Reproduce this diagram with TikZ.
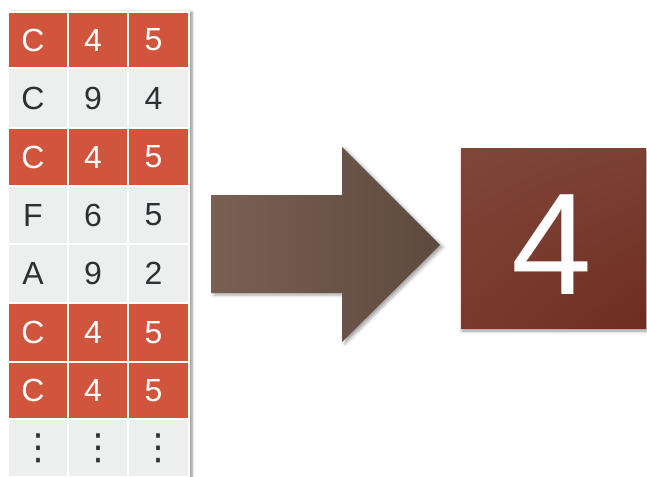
\documentclass[tikz,border=0pt]{standalone}
\usepackage{fontspec}
\setmainfont{Liberation Sans}
\newfontfamily\dotfont{DejaVu Sans}
\usetikzlibrary{shadows.blur,shadings}

\definecolor{hitred}{HTML}{D1553C}
\definecolor{misgrey}{HTML}{EDEEEE}
\definecolor{inktext}{HTML}{2E3033}
\definecolor{arrowL}{HTML}{7A6052}
\definecolor{arrowR}{HTML}{5E4A3E}
\definecolor{boxUL}{HTML}{7E4639}
\definecolor{boxUR}{HTML}{7C4034}
\definecolor{boxLL}{HTML}{7A3A2D}
\definecolor{boxLR}{HTML}{6E2D21}

\tikzset{
  cellbase/.style={draw=white, line width=1.3pt, inner sep=0pt, outer sep=0pt,
    font=\fontsize{32}{36}\selectfont},
  % letters sit a little left of the cell centre
  lefttext/.style={execute at end node={\hspace*{10pt}}},
  hit/.style={cellbase, lefttext, fill=hitred, text=white},
  miss/.style={cellbase, lefttext, fill=misgrey, text=inktext},
  more/.style={cellbase, fill=misgrey, text=inktext,
    font=\dotfont\fontsize{36}{36}\selectfont},
  softshadow/.style={blur shadow={shadow xshift=3pt, shadow yshift=-2pt,
    shadow blur radius=3pt, shadow opacity=35}},
}

\begin{document}
\begin{tikzpicture}[x=1pt, y=-1pt]
  \useasboundingbox (0,0) rectangle (647,476);
  \clip (0,0) rectangle (647,476);

  % shadow strip behind the table
  \fill[white, blur shadow={shadow xshift=3pt, shadow yshift=0pt,
    shadow blur radius=2.5pt, shadow opacity=45}] (8,12) rectangle (189,490);

  % table of records
  \foreach \r/\top/\bot/\kind/\va/\vb/\vc in {
      1/12/68/hit/C/4/5,
      2/68/128/miss/C/9/4,
      3/128/186/hit/C/4/5,
      4/186/244/miss/F/6/5,
      5/244/303/miss/A/9/2,
      6/303/362/hit/C/4/5,
      7/362/419/hit/C/4/5,
      8/419/477/more/⋮/⋮/⋮} {
    \foreach \col/\xl/\xr/\t in {1/8/68/\va, 2/68/128/\vb, 3/128/189/\vc} {
      \node[\kind, minimum width={\xr-\xl}, minimum height={\bot-\top}]
        (c\r\col) at ({(\xl+\xr)/2},{(\top+\bot)/2}) {\t};
    }
  }

  % block arrow
  \shade[left color=arrowL, right color=arrowR, softshadow]
    (211,195) -- (342,195) -- (342,147) -- (440,245) -- (342,342)
    -- (342,293) -- (211,293) -- cycle;

  % result box
  \node[minimum width=185, minimum height=180, inner sep=0pt,
    upper left=boxUL, upper right=boxUR, lower left=boxLL, lower right=boxLR,
    blur shadow={shadow xshift=1pt, shadow yshift=-3pt, shadow blur radius=3pt,
    shadow opacity=40}]
    (result) at (553.5,238) {};
  \node[text=white, inner sep=0pt, font=\fontsize{145}{150}\selectfont]
    (count) at (552,245) {4};
\end{tikzpicture}
\end{document}
